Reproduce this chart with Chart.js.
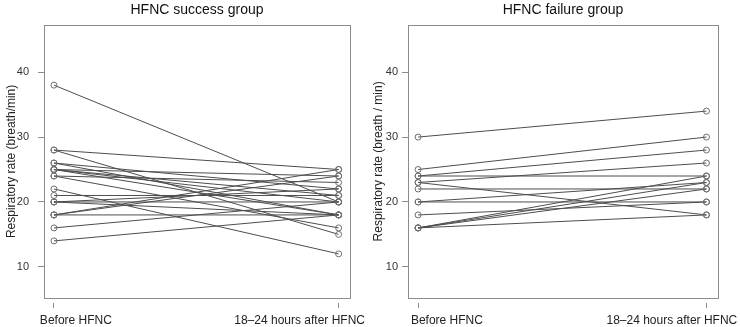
<!DOCTYPE html>
<html>
<head>
<meta charset="utf-8">
<script src="https://cdn.jsdelivr.net/npm/chart.js@4.4.0/dist/chart.umd.min.js"></script>
<style>
  html, body { margin: 0; padding: 0; background: #fff; }
  .wrap { display: flex; width: 740px; height: 327px; }
  canvas { display: block; }
</style>
</head>
<body>
<div class="wrap">
  <canvas id="success-chart" width="370" height="327"></canvas>
  <canvas id="failure-chart" width="370" height="327"></canvas>
</div>
<script>
// x 轴标签与 y 轴刻度
const timeLabels = ['Before HFNC', '18–24 hours after HFNC'];
const yTicks = [10, 20, 30, 40];

// HFNC success group: 每位患者的前后呼吸频率
const successBefore = [38, 28, 28, 26, 26, 25, 25, 25, 25, 24, 24, 22, 21, 20, 20, 20, 18, 18, 18, 16, 14];
const successAfter  = [20, 25, 15, 22, 18, 24, 21, 18, 20, 23, 16, 12, 21, 22, 20, 18, 25, 24, 18, 20, 18];

// HFNC failure group
const failureBefore = [30, 25, 24, 24, 23, 23, 22, 20, 20, 18, 16, 16, 16, 16];
const failureAfter  = [34, 30, 28, 24, 26, 18, 22, 20, 23, 20, 24, 23, 22, 18];

Chart.defaults.font.family = "'Liberation Sans', Arial, sans-serif";

// 画整个绘图区的边框
const boxPlugin = {
    id: 'box',
    afterDraw(chart) {
        const a = chart.chartArea;
        const ctx = chart.ctx;
        ctx.save();
        ctx.strokeStyle = '#8c8c8c';
        ctx.lineWidth = 1;
        ctx.strokeRect(Math.round(a.left) + 0.5, Math.round(a.top) + 0.5,
            Math.round(a.right - a.left), Math.round(a.bottom - a.top));
        ctx.restore();
    }
};

function makeChart(canvasId, title, yTitle, before, after, opts) {
    const datasets = before.map((b, i) => ({
        data: [{ x: 1, y: b }, { x: 2, y: after[i] }],
        borderColor: '#4d4d4d',
        borderWidth: 1,
        pointRadius: 3,
        pointBorderWidth: 1,
        pointBorderColor: '#6e6e6e',
        pointBackgroundColor: 'rgba(0,0,0,0)'
    }));

    return new Chart(document.getElementById(canvasId), {
        type: 'line',
        data: { datasets: datasets },
        options: {
            responsive: false,
            animation: false,
            devicePixelRatio: 1,
            layout: { padding: { left: 0, right: opts.padRight, top: 0, bottom: 0 } },
            plugins: {
                legend: { display: false },
                tooltip: { enabled: false },
                title: {
                    display: true,
                    fullSize: false,
                    text: title,
                    color: '#111',
                    font: { size: 14, weight: 'normal' },
                    padding: { top: 2, bottom: 6 }
                }
            },
            scales: {
                x: {
                    type: 'linear',
                    min: 0.965,
                    max: 2.04,
                    position: 'bottom',
                    weight: 0,
                    afterBuildTicks: s => { s.ticks = [1, 2].map(v => ({ value: v })); },
                    afterFit: s => { s.height = 10; s.paddingLeft = 0; s.paddingRight = 0; },
                    ticks: { display: false },
                    grid: {
                        drawOnChartArea: false,
                        drawTicks: true,
                        tickLength: 10,
                        tickColor: '#8c8c8c',
                        tickBorderDash: [0, 5, 6, 20]
                    },
                    border: { display: false }
                },
                xLabel: {
                    type: 'linear',
                    axis: 'x',
                    min: 0.965,
                    max: 2.04,
                    position: 'bottom',
                    weight: 1,
                    afterBuildTicks: s => { s.ticks = opts.labelPos.map(v => ({ value: v })); },
                    // 标签可以超出绘图区，不让它挤压绘图区
                    afterFit: s => { s.height = 19; s.paddingLeft = 0; s.paddingRight = 0; },
                    ticks: {
                        callback: (v, i) => timeLabels[i],
                        color: '#222',
                        font: { size: 12 },
                        maxRotation: 0,
                        autoSkip: false,
                        padding: 5
                    },
                    grid: { display: false, drawTicks: false },
                    border: { display: false }
                },
                y: {
                    min: 5.2,
                    max: 47.3,
                    afterBuildTicks: s => { s.ticks = yTicks.map(v => ({ value: v })); },
                    afterFit: s => { s.width = opts.yWidth; },
                    ticks: { color: '#333', font: { size: 11 }, padding: opts.tickPad },
                    grid: { drawOnChartArea: false, tickLength: 6, tickColor: '#8c8c8c' },
                    border: { display: false },
                    title: {
                        display: true,
                        text: yTitle,
                        color: '#222',
                        font: { size: 12 },
                        padding: { top: opts.titlePad, bottom: 0 }
                    }
                }
            }
        },
        plugins: [boxPlugin]
    });
}

makeChart('success-chart', 'HFNC success group', 'Respiratory rate (breath/min)',
    successBefore, successAfter,
    { padRight: 20, yWidth: 44, tickPad: 9, titlePad: 4, labelPos: [1.077, 1.863] });

makeChart('failure-chart', 'HFNC failure group', 'Respiratory rate (breath / min)',
    failureBefore, failureAfter,
    { padRight: 22, yWidth: 38, tickPad: 4, titlePad: 1, labelPos: [1.10, 1.88] });
</script>
</body>
</html>
